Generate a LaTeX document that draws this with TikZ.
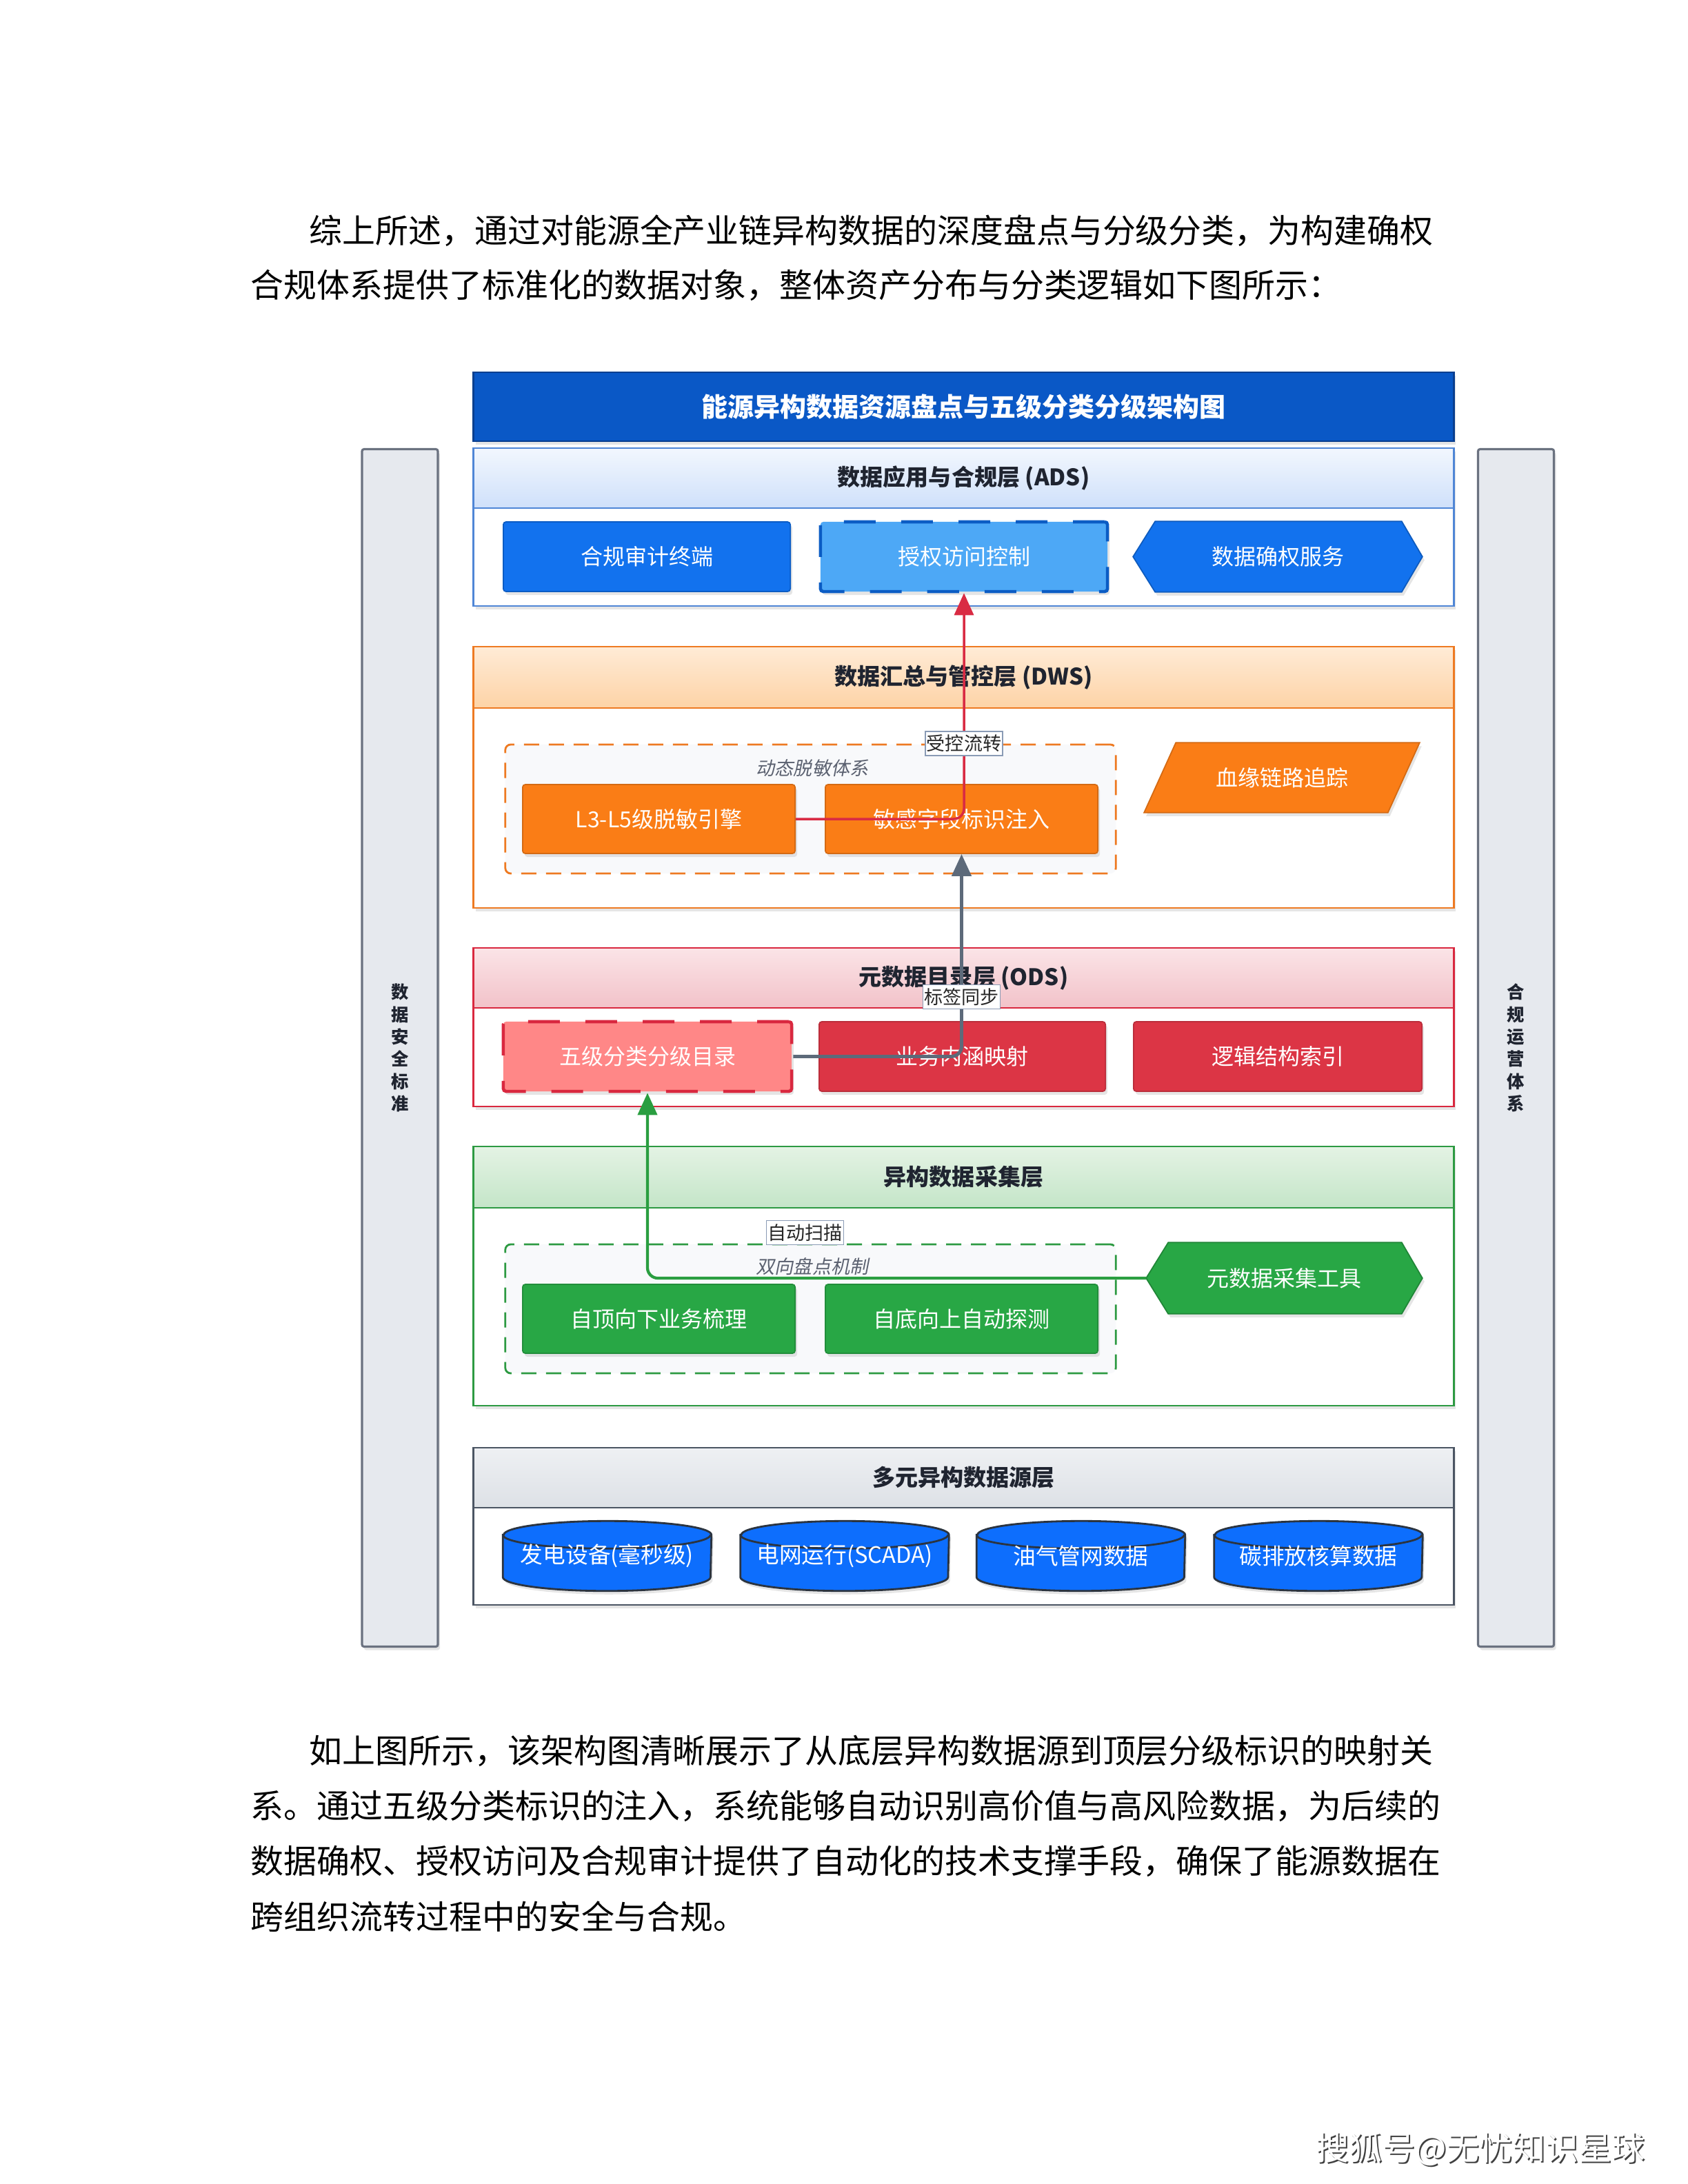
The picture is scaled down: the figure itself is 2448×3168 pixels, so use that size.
\documentclass[tikz,border=0pt]{standalone}
\usepackage{fontspec}
\setmainfont{Noto Sans CJK SC}
\newfontfamily\slcjk{Noto Sans CJK SC}[FakeSlant=0.2]
\usetikzlibrary{arrows.meta,shadows}
\pgfdeclarelayer{lay0}
\pgfdeclarelayer{lay1}
\pgfsetlayers{lay0,lay1,main}
\newcommand\myfs[1]{\fontsize{#1}{#1}\selectfont}
\definecolor{titleblue}{HTML}{0A58C6}
\definecolor{titleborder}{HTML}{0A3F8F}
\definecolor{adsb}{HTML}{4F86D6}
\definecolor{adstop}{HTML}{F2F7FE}
\definecolor{adsbot}{HTML}{CFE0FA}
\definecolor{nodeblue}{HTML}{1272EE}
\definecolor{nodeblueb}{HTML}{0B5CC4}
\definecolor{lightblue}{HTML}{4DA8F6}
\definecolor{orgb}{HTML}{EE7A22}
\definecolor{orgtop}{HTML}{FFEBD6}
\definecolor{orgbot}{HTML}{FDD3A6}
\definecolor{orgnode}{HTML}{FA7D16}
\definecolor{redb}{HTML}{D9283F}
\definecolor{redtop}{HTML}{FBE4E7}
\definecolor{redbot}{HTML}{F2C2C9}
\definecolor{rednode}{HTML}{DC3545}
\definecolor{pinknode}{HTML}{FF8787}
\definecolor{greenb}{HTML}{2D9A42}
\definecolor{greentop}{HTML}{E4F3E4}
\definecolor{greenbot}{HTML}{C4E5C8}
\definecolor{greennode}{HTML}{28A745}
\definecolor{grayb}{HTML}{4B5563}
\definecolor{graytop}{HTML}{EEF0F3}
\definecolor{graybot}{HTML}{DDE1E6}
\definecolor{cylfill}{HTML}{0D6EFD}
\definecolor{cylline}{HTML}{2B3440}
\definecolor{sidefill}{HTML}{E6E9EE}
\definecolor{sideb}{HTML}{6B7280}
\definecolor{headtext}{HTML}{1F2430}
\definecolor{grouptext}{HTML}{5B6170}
\definecolor{groupfill}{HTML}{F8F9FB}
\definecolor{edgegray}{HTML}{5D6A7A}
\definecolor{edgered}{HTML}{D92B43}
\definecolor{edgegreen}{HTML}{2A9E40}
\definecolor{labb}{HTML}{8A9BB5}
\newcommand\mycyl[1]{%
  \filldraw[fill=cylfill, draw=cylline, line width=0.8pt, drop shadow={shadow xshift=0.03cm, shadow yshift=-0.05cm, opacity=0.2}]
    ([yshift=-0.2cm]#1.north west) -- ([yshift=0.2cm]#1.south west)
    arc[start angle=180, end angle=360, x radius=1.505cm, y radius=0.2cm]
    -- ([yshift=-0.2cm]#1.north east)
    arc[start angle=0, end angle=180, x radius=1.505cm, y radius=0.2cm] -- cycle;
  \draw[cylline, line width=0.8pt] ([yshift=-0.2cm]#1.north west)
    arc[start angle=180, end angle=360, x radius=1.505cm, y radius=0.2cm];}
\newcommand\myhex[2]{%
  \filldraw[fill=#2, draw=#2!80!black, line width=0.5pt, drop shadow={shadow xshift=0.03cm, shadow yshift=-0.05cm, opacity=0.2}]
    (#1.west) -- ([xshift=0.32cm]#1.north west) -- ([xshift=-0.3cm]#1.north east) -- (#1.east)
    -- ([xshift=-0.3cm]#1.south east) -- ([xshift=0.32cm]#1.south west) -- cycle;}
\begin{document}
\begin{tikzpicture}[x=0.01cm, y=-0.01cm,
  shd/.style={drop shadow={shadow xshift=0.03cm, shadow yshift=-0.05cm, opacity=0.2}},
  ptext/.style={anchor=west, inner sep=0, font=\myfs{13.63pt}, text=black},
  layerbody/.style={draw=#1, fill=white, line width=0.7pt, minimum width=14.21cm, inner sep=0, shd},
  layerhead/.style={draw=#1, line width=0.7pt, minimum width=14.21cm, inner sep=0, font=\bfseries\myfs{9.4pt}, text=headtext},
  nbox/.style={rectangle, rounded corners=0.04cm, minimum height=1.01cm, inner sep=0, text=white, font=\myfs{9.1pt}, shd},
  tbox/.style={rectangle, minimum height=1.01cm, inner sep=0, text=white, font=\myfs{9.1pt}},
  grp/.style={draw=#1, line width=0.8pt, dash pattern=on 0.22cm off 0.14cm, fill=groupfill, rounded corners=0.08cm, inner sep=0, minimum width=8.85cm, minimum height=1.87cm},
  glabel/.style={font=\slcjk\myfs{7.7pt}, text=grouptext, inner sep=0},
  elabel/.style={sharp corners, fill=white, draw=labb, line width=0.4pt, font=\myfs{7.7pt}, text=black!85, inner xsep=0.02cm, inner ysep=0.05cm},
  conn/.style={line width=1pt, rounded corners=0.15cm, -{Triangle[length=0.32cm,width=0.28cm]}},
  sidebar/.style={fill=sidefill, draw=sideb, line width=0.9pt, minimum width=1.1cm, minimum height=17.36cm, inner sep=0, rounded corners=0.03cm, font=\bfseries\fontsize{7.2pt}{9.2pt}\selectfont, text=headtext, align=center, shd}
]
\useasboundingbox (0,0) rectangle (2448,3168);
\begin{pgfonlayer}{lay0}
\fill[white] (0,0) rectangle (2448,3168);
\end{pgfonlayer}

% paragraphs
\node[ptext] (p1a) at (448,335) {综上所述，通过对能源全产业链异构数据的深度盘点与分级分类，为构建确权};
\node[ptext] (p1b) at (363,414) {合规体系提供了标准化的数据对象，整体资产分布与分类逻辑如下图所示：};
\node[ptext] (p2a) at (448,2540) {如上图所示，该架构图清晰展示了从底层异构数据源到顶层分级标识的映射关};
\node[ptext] (p2b) at (363,2620) {系。通过五级分类标识的注入，系统能够自动识别高价值与高风险数据，为后续的};
\node[ptext] (p2c) at (363,2700) {数据确权、授权访问及合规审计提供了自动化的技术支撑手段，确保了能源数据在};
\node[ptext] (p2d) at (363,2780) {跨组织流转过程中的安全与合规。};

\begin{pgfonlayer}{lay0}
% side bars
\node[sidebar] (secstd) at (580,1520) {数\\据\\安\\全\\标\\准};
\node[sidebar] (compops) at (2198.5,1520) {合\\规\\运\\营\\体\\系};

% title
\node[fill=titleblue, draw=titleborder, line width=0.7pt, minimum width=14.21cm, minimum height=1.0cm, inner sep=0, text=white, font=\bfseries\myfs{10.8pt}, shd] (title) at (1397.5,590) {能源异构数据资源盘点与五级分类分级架构图};

% layer containers
\node[layerbody=adsb, minimum height=2.29cm] (adsL) at (1397.5,764.5) {};
\node[layerhead=adsb, top color=adstop, bottom color=adsbot, minimum height=0.87cm] (adsH) at (1397.5,693.5) {数据应用与合规层 (ADS)};
\node[layerbody=orgb, minimum height=3.79cm] (dwsL) at (1397.5,1127.5) {};
\node[layerhead=orgb, top color=orgtop, bottom color=orgbot, minimum height=0.89cm] (dwsH) at (1397.5,982.5) {数据汇总与管控层 (DWS)};
\node[layerbody=redb, minimum height=2.30cm] (odsL) at (1397.5,1490) {};
\node[layerhead=redb, top color=redtop, bottom color=redbot, minimum height=0.87cm] (odsH) at (1397.5,1418.5) {元数据目录层 (ODS)};
\node[layerbody=greenb, minimum height=3.76cm] (colL) at (1397.5,1851) {};
\node[layerhead=greenb, top color=greentop, bottom color=greenbot, minimum height=0.89cm] (colH) at (1397.5,1707.5) {异构数据采集层};
\node[layerbody=grayb, minimum height=2.28cm] (srcL) at (1397.5,2214) {};
\node[layerhead=grayb, top color=graytop, bottom color=graybot, minimum height=0.87cm] (srcH) at (1397.5,2143.5) {多元异构数据源层};

% groups
\node[grp=orgb] (desens) at (1175.5,1173.5) {};
\node[grp=greenb] (bidir) at (1175.5,1898.5) {};
\end{pgfonlayer}
\node[glabel] (desensL) at (1178,1114) {动态脱敏体系};
\node[glabel] (bidirL) at (1178,1837) {双向盘点机制};

% ADS nodes
\node[nbox, fill=nodeblue, draw=nodeblueb, line width=0.5pt, minimum width=4.16cm] (audit) at (938,807.5) {合规审计终端};
\node[nbox, fill=lightblue, draw=nodeblueb, line width=1.3pt, dash pattern=on 0.46cm off 0.37cm, minimum width=4.16cm] (auth) at (1398,807.5) {授权访问控制};
\node[tbox, minimum width=4.18cm] (svc) at (1853,807.5) {数据确权服务};

% DWS nodes
\node[nbox, fill=orgnode, draw=orgnode!85!black, line width=0.5pt, minimum width=3.95cm, minimum height=1.0cm] (engine) at (955.5,1188) {L3-L5级脱敏引擎};
\node[nbox, fill=orgnode, draw=orgnode!85!black, line width=0.5pt, minimum width=3.95cm, minimum height=1.0cm] (inject) at (1394.5,1188) {敏感字段标识注入};
\node[tbox, minimum width=3.98cm, minimum height=1.0cm] (lineage) at (1859,1128) {血缘链路追踪};

% ODS nodes
\node[nbox, fill=pinknode, draw=redb, line width=1.3pt, dash pattern=on 0.46cm off 0.37cm, minimum width=4.18cm] (catalog) at (939,1532.5) {五级分类分级目录};
\node[nbox, fill=rednode, draw=rednode!85!black, line width=0.5pt, minimum width=4.15cm] (bizmap) at (1395.5,1532.5) {业务内涵映射};
\node[nbox, fill=rednode, draw=rednode!85!black, line width=0.5pt, minimum width=4.18cm] (logic) at (1853,1532.5) {逻辑结构索引};

% collection nodes
\node[nbox, fill=greennode, draw=greennode!85!black, line width=0.5pt, minimum width=3.95cm, minimum height=1.0cm] (topdown) at (955.5,1913) {自顶向下业务梳理};
\node[nbox, fill=greennode, draw=greennode!85!black, line width=0.5pt, minimum width=3.95cm, minimum height=1.0cm] (bottomup) at (1394.5,1913) {自底向上自动探测};
\node[tbox, minimum width=3.99cm, minimum height=1.02cm] (tool) at (1862.5,1854) {元数据采集工具};

% sources
\node[tbox, minimum width=3.01cm, minimum height=1.0cm, font=\myfs{9.3pt}] (c1) at (880.5,2257) {发电设备(毫秒级)};
\node[tbox, minimum width=3.01cm, minimum height=1.0cm, font=\myfs{9.3pt}] (c2) at (1225,2257) {电网运行(SCADA)};
\node[tbox, minimum width=3.01cm, minimum height=1.0cm, font=\myfs{9.3pt}] (c3) at (1567.5,2257) {油气管网数据};
\node[tbox, minimum width=3.01cm, minimum height=1.0cm, font=\myfs{9.3pt}] (c4) at (1912,2257) {碳排放核算数据};

% shapes behind text-only nodes
\begin{pgfonlayer}{lay1}
\myhex{svc}{nodeblue}
\myhex{tool}{greennode}
\filldraw[fill=orgnode, draw=orgnode!85!black, line width=0.5pt, drop shadow={shadow xshift=0.03cm, shadow yshift=-0.05cm, opacity=0.2}]
  (lineage.south west) -- ([xshift=0.46cm]lineage.north west) -- (lineage.north east) -- ([xshift=-0.46cm]lineage.south east) -- cycle;
\mycyl{c1}
\mycyl{c2}
\mycyl{c3}
\mycyl{c4}
\end{pgfonlayer}

% connectors
\draw[conn, edgered] (engine.east) -| node[elabel, pos=0.667] (lab1) {受控流转} (auth.south);
\draw[conn, edgegray, line width=1.4pt] (catalog.east) -| node[elabel, pos=0.647] (lab2) {标签同步} (inject.south);
\draw[conn, edgegreen, line width=1.2pt] (tool.west) -| node[elabel, pos=0.342, yshift=0.66cm] (lab3) {自动扫描} (catalog.south);

% footer mark
\node[inner sep=0, font=\myfs{13.63pt}, text=black!75] (sohuS) at (2149,3119) {搜狐号@无忧知识星球};
\node[inner sep=0, font=\myfs{13.63pt}, text=white] (sohu) at (2147,3117) {搜狐号@无忧知识星球};
\end{tikzpicture}
\end{document}
